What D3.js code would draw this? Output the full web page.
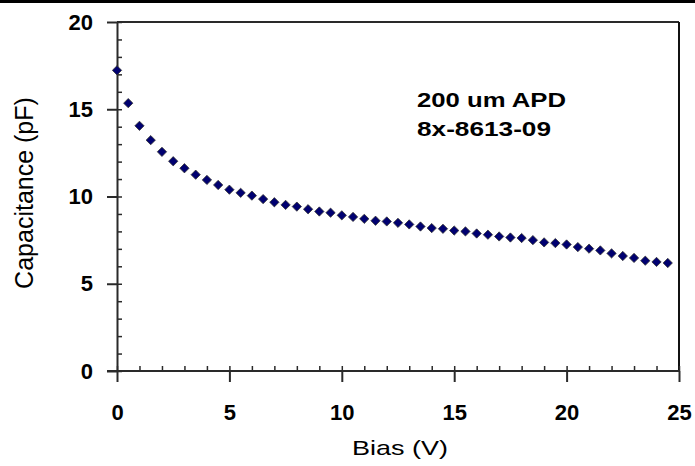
<!DOCTYPE html>
<html><head><meta charset="utf-8">
<script src="https://cdn.jsdelivr.net/npm/d3@7"></script>
<style>body{margin:0;background:#fff}svg{display:block}</style>
</head><body>
<svg id="c" width="695" height="466"></svg>
<script>
const bias = d3.range(50).map(i => i * 0.5);
const capacitance = [17.23,15.35,14.05,13.23,12.56,12.02,11.62,11.25,10.95,10.66,
 10.39,10.21,10.05,9.85,9.67,9.52,9.42,9.27,9.14,9.07,
 8.92,8.83,8.72,8.61,8.57,8.49,8.40,8.28,8.19,8.15,
 8.05,8.00,7.88,7.81,7.71,7.65,7.62,7.50,7.37,7.33,
 7.25,7.10,7.01,6.91,6.74,6.59,6.48,6.32,6.25,6.19];
const xTicks = [0,5,10,15,20,25];
const yTicks = [0,5,10,15,20];
const xLabel = "Bias (V)";
const yLabel = "Capacitance (pF)";
const noteLines = ["200 um APD","8x-8613-09"];

const svg = d3.select("#c");
const L = 117, R = 679, T = 22, B = 371;
const x = d3.scaleLinear().domain([0,25]).range([L,R]);
const y = d3.scaleLinear().domain([0,20]).range([B,T]);
const ax = "#2a2a2a";
const font = "'Liberation Sans',Arial,Helvetica,sans-serif";

// top rule
svg.append("line").attr("x1",0).attr("x2",695).attr("y1",1.5).attr("y2",1.5)
  .attr("stroke","#000").attr("stroke-width",3);

// frame top & right
svg.append("line").attr("x1",L).attr("x2",R).attr("y1",T).attr("y2",T).attr("stroke",ax).attr("stroke-width",2);
svg.append("line").attr("x1",R).attr("x2",R).attr("y1",T).attr("y2",B).attr("stroke","#111").attr("stroke-width",2);

// minor ticks
const yMinor = d3.axisLeft(y).tickValues(d3.range(0,21,1)).tickSize(-5).tickFormat("");
const gy2 = svg.append("g").attr("transform",`translate(${L},0)`).call(yMinor);
const xMinor = d3.axisBottom(x).tickValues(d3.range(0,26,1)).tickSize(-5).tickFormat("");
const gx2 = svg.append("g").attr("transform",`translate(0,${B})`).call(xMinor);
[gy2,gx2].forEach(g=>{g.select(".domain").remove();g.selectAll("line").attr("stroke",ax).attr("stroke-width",1.5);});

// major axes
const yAxis = d3.axisLeft(y).tickValues(yTicks).tickSize(10).tickPadding(14).tickSizeOuter(0);
const gy = svg.append("g").attr("transform",`translate(${L},0)`).call(yAxis);
const xAxis = d3.axisBottom(x).tickValues(xTicks).tickSize(11).tickPadding(22).tickSizeOuter(0);
const gx = svg.append("g").attr("transform",`translate(0,${B})`).call(xAxis);
[gy,gx].forEach(g=>{
  g.select(".domain").attr("stroke",ax).attr("stroke-width",2);
  g.selectAll(".tick line").attr("stroke",ax).attr("stroke-width",2);
  g.selectAll("text").attr("fill","#000").attr("font-family",font)
    .attr("font-weight","bold").attr("font-size",22);
});
gx.select(".domain").attr("d",`M${L-10},0H${R}`);

// markers
svg.append("g").selectAll("path").data(bias).join("path")
  .attr("d", d3.symbol().type(d3.symbolDiamond2).size(55))
  .attr("transform",(d,i)=>`translate(${x(d)},${y(capacitance[i])})`)
  .attr("fill","#000070").attr("stroke","#333").attr("stroke-width",0.8);

// axis titles
svg.append("text").attr("x",(L+R)/2+2).attr("y",455).attr("text-anchor","middle")
  .attr("font-family",font).attr("font-size",21)
  .attr("textLength",96).attr("lengthAdjust","spacingAndGlyphs").text(xLabel);
svg.append("text").attr("transform","translate(33,193) rotate(-90)").attr("text-anchor","middle")
  .attr("font-family",font).attr("font-size",25).text(yLabel);

// note
svg.append("g").selectAll("text").data(noteLines).join("text")
  .attr("x",417).attr("y",(d,i)=>107+i*29)
  .attr("font-family",font).attr("font-weight","bold").attr("font-size",21)
  .attr("textLength",(d,i)=>i===0?149:134).attr("lengthAdjust","spacingAndGlyphs").text(d=>d);
</script>
</body></html>
